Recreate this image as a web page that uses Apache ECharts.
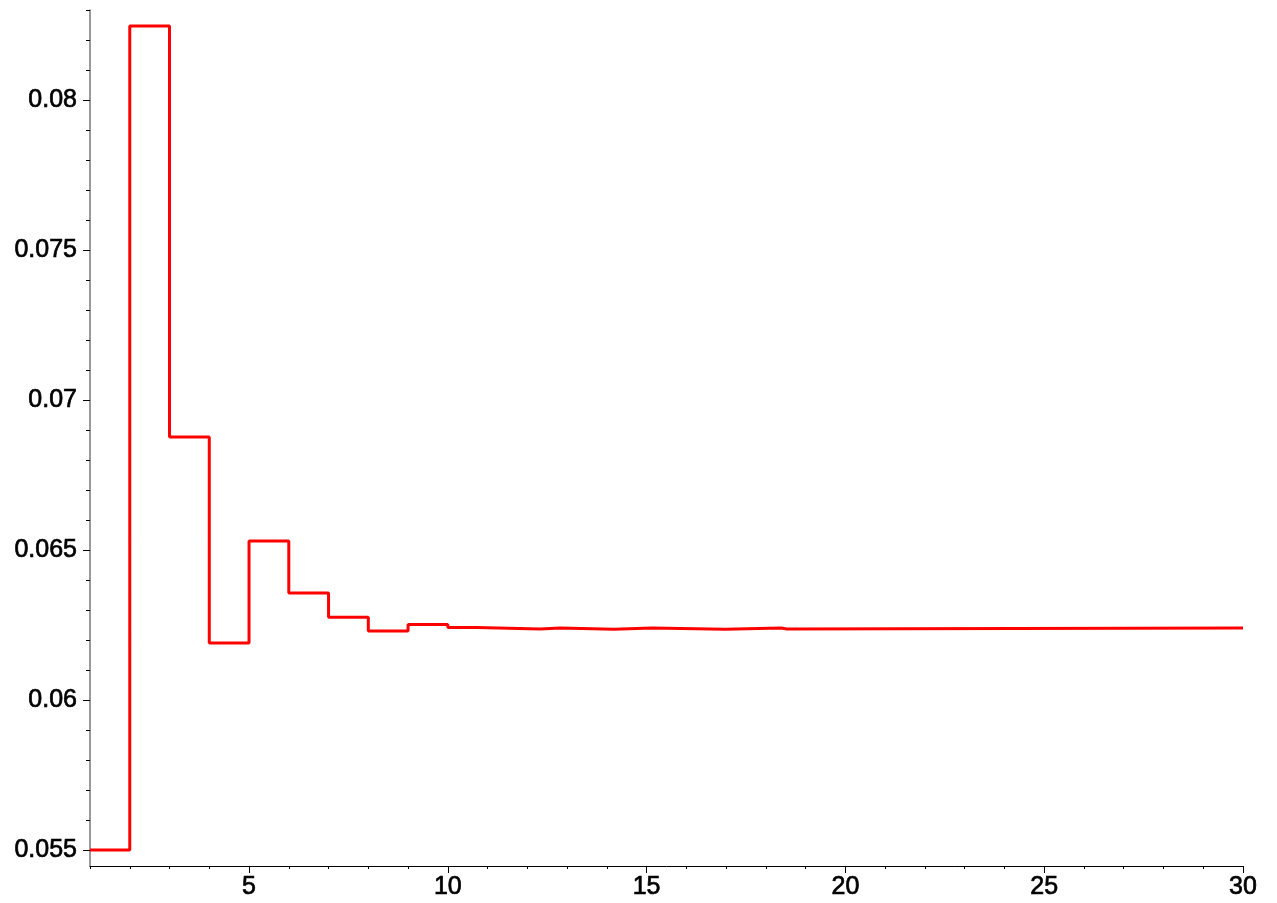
<!DOCTYPE html>
<html>
<head>
<meta charset="utf-8">
<script src="https://cdn.jsdelivr.net/npm/echarts@6/dist/echarts.min.js"></script>
<style>
html,body{margin:0;padding:0;background:#fff;}
#chart{width:1277px;height:903px;}
</style>
</head>
<body>
<div id="chart"></div>
<script>
// Step function: value holds from each start x until the next start x
const stepStarts = [1, 2, 3, 4, 5, 6, 7, 8, 9, 10, 10.73, 12.32, 12.82, 14.18, 15.13, 16.97, 18.38, 18.53];
const stepValues = [0.055, 0.08247, 0.06877, 0.0619, 0.0653, 0.06357, 0.06276, 0.0623, 0.06252, 0.06242, 0.06237, 0.0624, 0.06236, 0.0624, 0.06236, 0.0624, 0.06237, 0.0624];
const xEnd = 30;

const xMajorTicks = [5, 10, 15, 20, 25, 30];
const xMinorTicks = [1,2,3,4,5,6,7,8,9,10,11,12,13,14,15,16,17,18,19,20,21,22,23,24,25,26,27,28,29,30];
const yMajorTicks = [0.055, 0.06, 0.065, 0.07, 0.075, 0.08];
const yMinorTicks = [0.055,0.056,0.057,0.058,0.059,0.06,0.061,0.062,0.063,0.064,0.065,0.066,0.067,0.068,0.069,0.07,0.071,0.072,0.073,0.074,0.075,0.076,0.077,0.078,0.079,0.08,0.081,0.082,0.083];

const data = stepStarts.map((x, i) => [x, stepValues[i]]);
data.push([xEnd, stepValues[stepValues.length - 1]]);

const X_MIN = 1, X_MAX = 30;
const Y_MIN = 0.054467, Y_MAX = 0.083;
const font = {fontFamily: 'Liberation Sans, Arial, sans-serif', fontSize: 25, fontWeight: 'normal', color: '#000',
  textBorderColor: '#000', textBorderWidth: 0.7};

const chart = echarts.init(document.getElementById('chart'), null, {renderer: 'canvas'});
chart.setOption({
  animation: false,
  backgroundColor: '#fff',
  grid: {left: 90, right: 34, top: 10, bottom: 37, containLabel: false},
  xAxis: [
    {
      type: 'value', min: X_MIN, max: X_MAX, position: 'bottom',
      axisLine: {show: true, lineStyle: {color: '#000', width: 1}},
      axisTick: {show: true, length: 3, customValues: xMinorTicks, lineStyle: {color: '#000'}},
      axisLabel: {show: false},
      splitLine: {show: false}
    },
    {
      type: 'value', min: X_MIN, max: X_MAX, position: 'bottom',
      axisLine: {show: false},
      axisTick: {show: true, length: 7, customValues: xMajorTicks, lineStyle: {color: '#000'}},
      axisLabel: Object.assign({show: true, margin: 9, customValues: xMajorTicks, formatter: v => String(v)}, font),
      splitLine: {show: false}
    }
  ],
  yAxis: [
    {
      type: 'value', min: Y_MIN, max: Y_MAX, position: 'left',
      axisLine: {show: true, lineStyle: {color: '#777', width: 1.5}},
      axisTick: {show: true, length: 4, customValues: yMinorTicks, lineStyle: {color: '#000'}},
      axisLabel: {show: false},
      splitLine: {show: false}
    },
    {
      type: 'value', min: Y_MIN, max: Y_MAX, position: 'left',
      axisLine: {show: false},
      axisTick: {show: true, length: 7, customValues: yMajorTicks, lineStyle: {color: '#000'}},
      axisLabel: Object.assign({show: true, margin: 13, customValues: yMajorTicks,
        formatter: v => String(+v.toFixed(4))}, font),
      splitLine: {show: false}
    }
  ],
  series: [{
    type: 'line',
    xAxisIndex: 0, yAxisIndex: 0,
    step: 'end',
    showSymbol: false,
    symbol: 'none',
    data: data,
    lineStyle: {color: '#ff0000', width: 3}
  }]
});
</script>
</body>
</html>
